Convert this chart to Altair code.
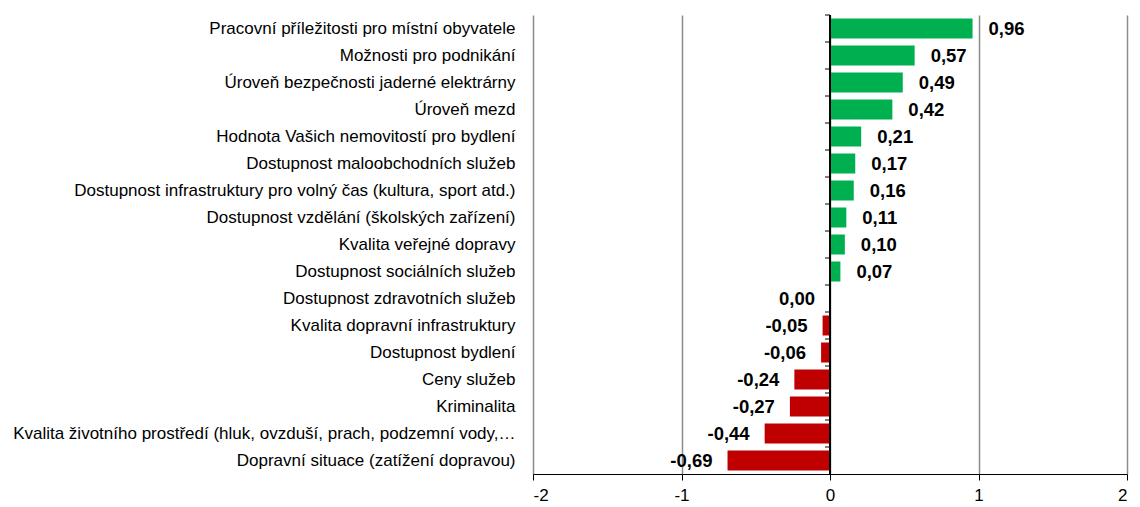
import altair as alt
import pandas as pd

categories = [
    "Pracovní příležitosti pro místní obyvatele",
    "Možnosti pro podnikání",
    "Úroveň bezpečnosti jaderné elektrárny",
    "Úroveň mezd",
    "Hodnota Vašich nemovitostí pro bydlení",
    "Dostupnost maloobchodních služeb",
    "Dostupnost infrastruktury pro volný čas (kultura, sport atd.)",
    "Dostupnost vzdělání (školských zařízení)",
    "Kvalita veřejné dopravy",
    "Dostupnost sociálních služeb",
    "Dostupnost zdravotních služeb",
    "Kvalita dopravní infrastruktury",
    "Dostupnost bydlení",
    "Ceny služeb",
    "Kriminalita",
    "Kvalita životního prostředí (hluk, ovzduší, prach, podzemní vody,…",
    "Dopravní situace (zatížení dopravou)",
]
values = [0.96, 0.57, 0.49, 0.42, 0.21, 0.17, 0.16, 0.11, 0.10, 0.07,
          0.00, -0.05, -0.06, -0.24, -0.27, -0.44, -0.69]
x_ticks = [-2, -1, 0, 1, 2]

df = pd.DataFrame({"cat": categories, "value": values})
df["label"] = [f"{v:.2f}".replace(".", ",") for v in values]
df["sign"] = ["pos" if v > 0 else "neg" for v in values]

FONT = "Liberation Sans"

xscale = alt.Scale(domain=[-2, 2], nice=False)
yscale = alt.Scale(domain=categories, paddingInner=0, paddingOuter=0)

base = alt.Chart(df)

bars = base.mark_bar(size=20).encode(
    x=alt.X("value:Q", scale=xscale,
            axis=alt.Axis(values=x_ticks, title=None, grid=True, gridColor="#8c8c8c",
                          gridWidth=1.5, domainColor="black", tickColor="black",
                          tickSize=6, labelFontSize=17, labelFont=FONT,
                          labelColor="black", labelPadding=7,
                          labelExpr="'' + datum.value")),
    y=alt.Y("cat:N", scale=yscale, sort=categories,
            axis=alt.Axis(title=None, ticks=False, domain=False, labelFontSize=17,
                          labelFont=FONT, labelColor="black", labelLimit=600,
                          labelPadding=18)),
    color=alt.Color("sign:N", scale=alt.Scale(domain=["pos", "neg"],
                                               range=["#00B050", "#C00000"]),
                    legend=None),
)

zero_line = base.mark_rule(color="black", strokeWidth=1).encode(
    x=alt.datum(0, scale=xscale),
    y=alt.value(0),
    y2=alt.value(459),
)

tick_marks = base.mark_rule(color="black", strokeWidth=1, xOffset=-5).encode(
    x=alt.datum(0),
    x2=alt.datum(0),
    y=alt.Y("cat:N", sort=categories, bandPosition=0),
)

pos_text = base.transform_filter("datum.value > 0").mark_text(
    align="left", dx=16, fontWeight="bold", fontSize=18.5, font=FONT, color="black"
).encode(
    x="value:Q",
    y=alt.Y("cat:N", sort=categories),
    text="label:N",
)

neg_text = base.transform_filter("datum.value <= 0").mark_text(
    align="right", dx=-15, fontWeight="bold", fontSize=18.5, font=FONT, color="black"
).encode(
    x="value:Q",
    y=alt.Y("cat:N", sort=categories),
    text="label:N",
)

chart = alt.layer(bars, zero_line, tick_marks, pos_text, neg_text).properties(
    width=594, height=459,
    autosize=alt.AutoSizeParams(type="none"),
    padding={"left": 525, "top": 7, "right": 5, "bottom": 30},
    background="white",
).configure_view(stroke=None)

chart.save("out.html", embed_options={"renderer": "svg", "actions": False})
